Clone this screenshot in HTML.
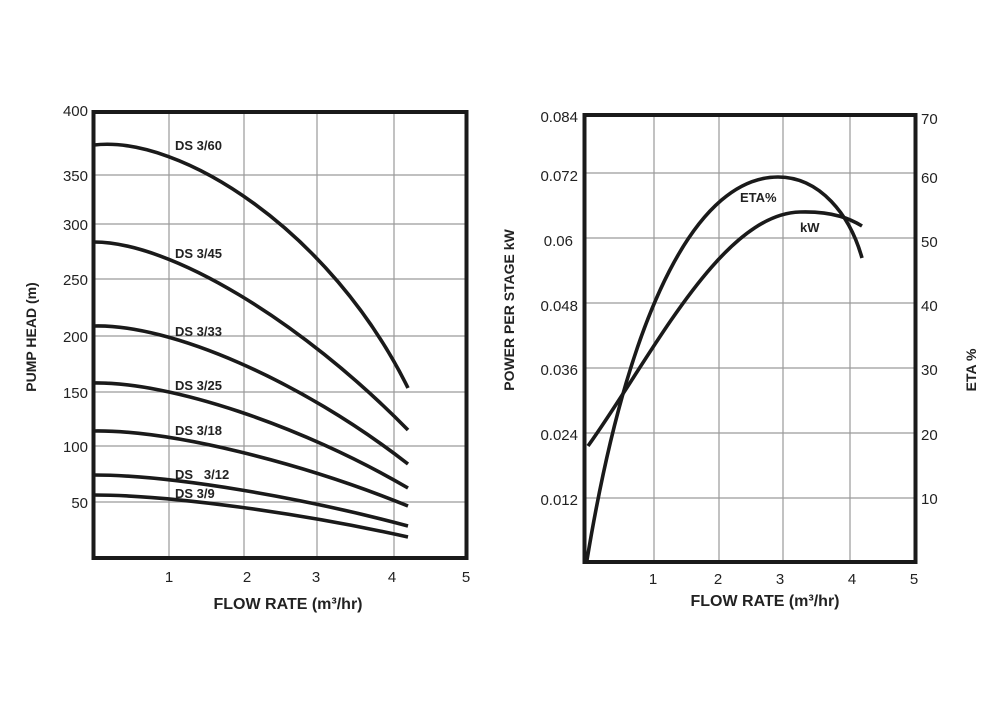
<!DOCTYPE html>
<html><head><meta charset="utf-8"><style>
html,body{margin:0;padding:0;background:#fff;}
svg{display:block;}
text{font-family:"Liberation Sans",sans-serif;fill:#222;}
</style></head><body>
<svg width="1000" height="712" viewBox="0 0 1000 712">
<g stroke="#9a9a9a" stroke-width="1.2" fill="none">
<line x1="169" y1="111" x2="169" y2="559"/><line x1="244" y1="111" x2="244" y2="559"/>
<line x1="317" y1="111" x2="317" y2="559"/><line x1="394" y1="111" x2="394" y2="559"/>
<line x1="92" y1="175" x2="468" y2="175"/><line x1="92" y1="224" x2="468" y2="224"/>
<line x1="92" y1="279" x2="468" y2="279"/><line x1="92" y1="336" x2="468" y2="336"/>
<line x1="92" y1="392" x2="468" y2="392"/><line x1="92" y1="446" x2="468" y2="446"/>
<line x1="92" y1="502" x2="468" y2="502"/>
<line x1="654" y1="114" x2="654" y2="563"/><line x1="719" y1="114" x2="719" y2="563"/>
<line x1="783" y1="114" x2="783" y2="563"/><line x1="850" y1="114" x2="850" y2="563"/>
<line x1="583" y1="173" x2="917" y2="173"/><line x1="583" y1="238" x2="917" y2="238"/>
<line x1="583" y1="303" x2="917" y2="303"/><line x1="583" y1="368" x2="917" y2="368"/>
<line x1="583" y1="433" x2="917" y2="433"/><line x1="583" y1="498" x2="917" y2="498"/>
</g>
<rect x="93.5" y="112" width="373" height="446" fill="none" stroke="#1a1a1a" stroke-width="4"/>
<rect x="584.5" y="115" width="331" height="447" fill="none" stroke="#1a1a1a" stroke-width="4"/>
<g stroke="#1a1a1a" stroke-width="3.6" fill="none" stroke-linecap="butt">
<path d="M94,145 C180,135 330,230 408,388"/>
<path d="M94,242 C170,242 300,320 408,430"/>
<path d="M94,326 C170,324 300,380 408,464"/>
<path d="M94,383 C170,382 300,425 408,488"/>
<path d="M94,431 C170,430 300,462 408,506"/>
<path d="M94,475 C170,475 300,497 408,526"/>
<path d="M94,495 C170,495 300,513 408,537"/>
<path d="M587,560 C630,300 700,177 778,177 C820,177 850,215 862,258"/>
<path d="M588,446 C650,360 720,214 800,212 C835,211 852,220 862,226"/>
</g>
<g font-size="13" font-weight="bold" fill="#222">
<text x="175" y="150">DS 3/60</text>
<text x="175" y="258">DS 3/45</text>
<text x="175" y="336">DS 3/33</text>
<text x="175" y="390">DS 3/25</text>
<text x="175" y="435">DS 3/18</text>
<text x="175" y="479">DS &#160;&#160;3/12</text>
<text x="175" y="498">DS 3/9</text>
<text x="740" y="202">ETA%</text>
<text x="800" y="232">kW</text>
</g>
<g font-size="15" fill="#333" text-anchor="end">
<text x="88" y="116">400</text><text x="88" y="181">350</text><text x="88" y="230">300</text>
<text x="88" y="285">250</text><text x="88" y="342">200</text><text x="88" y="398">150</text>
<text x="88" y="452">100</text><text x="88" y="508">50</text>
<text x="578" y="122">0.084</text><text x="578" y="181">0.072</text><text x="573" y="246">0.06</text>
<text x="578" y="311">0.048</text><text x="578" y="375">0.036</text><text x="578" y="440">0.024</text>
<text x="578" y="505">0.012</text>
</g>
<g font-size="15" fill="#333" text-anchor="start">
<text x="921" y="124">70</text><text x="921" y="183">60</text><text x="921" y="247">50</text>
<text x="921" y="311">40</text><text x="921" y="375">30</text><text x="921" y="440">20</text>
<text x="921" y="504">10</text>
</g>
<g font-size="15" fill="#333" text-anchor="middle">
<text x="169" y="582">1</text><text x="247" y="582">2</text><text x="316" y="582">3</text>
<text x="392" y="582">4</text><text x="466" y="582">5</text>
<text x="653" y="584">1</text><text x="718" y="584">2</text><text x="780" y="584">3</text>
<text x="852" y="584">4</text><text x="914" y="584">5</text>
</g>
<g font-size="16" font-weight="bold" fill="#222" text-anchor="middle">
<text x="288" y="609">FLOW RATE (m³/hr)</text>
<text x="765" y="606">FLOW RATE (m³/hr)</text>
</g>
<g font-size="14" font-weight="bold" fill="#222" text-anchor="middle">
<text transform="translate(36,337) rotate(-90)">PUMP HEAD (m)</text>
<text transform="translate(514,310) rotate(-90)">POWER PER STAGE kW</text>
<text transform="translate(976,370) rotate(-90)">ETA %</text>
</g>
</svg>
</body></html>
